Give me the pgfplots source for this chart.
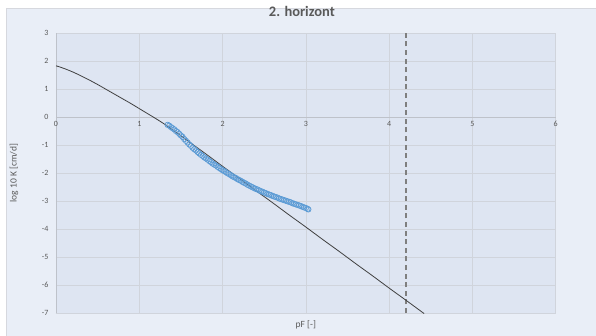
\documentclass[border=0pt]{standalone}
\usepackage{pgfplots}
\pgfplotsset{compat=1.18}
\usepackage{fontspec}
\setmainfont{Carlito}

\definecolor{chartbg}{RGB}{233,238,247}
\definecolor{plotbg}{RGB}{222,229,242}
\definecolor{gridc}{RGB}{208,212,220}
\definecolor{framec}{RGB}{214,216,222}
\definecolor{axisc}{RGB}{190,194,202}
\definecolor{textc}{RGB}{89,89,89}
\definecolor{ptblue}{RGB}{91,155,213}
\definecolor{curvec}{RGB}{64,64,64}
\definecolor{wpc}{RGB}{127,127,127}

% measured conductivity
\pgfplotstableread{
pF logK
1.34 -0.28
1.36 -0.31
1.38 -0.36
1.40 -0.40
1.42 -0.44
1.44 -0.50
1.46 -0.54
1.48 -0.60
1.50 -0.66
1.52 -0.71
1.54 -0.79
1.56 -0.85
1.58 -0.91
1.60 -0.98
1.62 -1.03
1.64 -1.10
1.66 -1.15
1.68 -1.19
1.70 -1.25
1.72 -1.30
1.74 -1.35
1.76 -1.39
1.78 -1.44
1.80 -1.48
1.82 -1.52
1.84 -1.57
1.86 -1.61
1.88 -1.66
1.90 -1.70
1.92 -1.73
1.94 -1.78
1.96 -1.82
1.98 -1.86
2.00 -1.90
2.02 -1.93
2.04 -1.97
2.06 -2.01
2.08 -2.04
2.10 -2.08
2.12 -2.12
2.14 -2.15
2.16 -2.18
2.18 -2.22
2.20 -2.25
2.22 -2.28
2.24 -2.32
2.26 -2.35
2.28 -2.38
2.30 -2.42
2.32 -2.45
2.34 -2.48
2.36 -2.51
2.38 -2.54
2.40 -2.57
2.42 -2.59
2.44 -2.62
2.46 -2.65
2.48 -2.67
2.50 -2.70
2.52 -2.72
2.54 -2.75
2.56 -2.77
2.58 -2.79
2.60 -2.82
2.62 -2.84
2.64 -2.86
2.66 -2.88
2.68 -2.91
2.70 -2.93
2.72 -2.95
2.74 -2.97
2.76 -2.99
2.78 -3.01
2.80 -3.03
2.82 -3.05
2.84 -3.08
2.86 -3.10
2.88 -3.12
2.90 -3.14
2.92 -3.16
2.94 -3.18
2.96 -3.21
2.98 -3.23
3.00 -3.25
3.02 -3.28
3.03 -3.30
}\measured

% fitted conductivity curve
\pgfplotstableread{
pF logK
0.0 1.83
0.1 1.73
0.2 1.61
0.3 1.47
0.4 1.32
0.5 1.16
0.6 0.99
0.7 0.82
0.8 0.65
0.9 0.48
1.0 0.30
1.1 0.12
1.2 -0.06
1.3 -0.25
1.4 -0.46
1.5 -0.67
1.6 -0.89
1.8 -1.32
2.0 -1.76
2.2 -2.19
2.4 -2.63
2.6 -3.06
2.8 -3.50
3.0 -3.93
3.2 -4.37
3.4 -4.80
3.6 -5.24
3.8 -5.67
4.0 -6.11
4.2 -6.54
4.42 -7.02
}\fitted

\begin{document}
\begin{tikzpicture}
\path[use as bounding box] (-56pt,-22pt) rectangle (540pt,313pt);
\fill[white] (-56pt,-22pt) rectangle (540pt,313pt);
\filldraw[fill=chartbg, draw=framec, line width=0.8pt] (-50pt,305pt) rectangle (546pt,-30pt);
\begin{axis}[
  at={(0pt,0pt)}, anchor=south west,
  scale only axis, width=499.7pt, height=280pt,
  xmin=0, xmax=6, ymin=-7, ymax=3,
  xtick={0,1,...,6}, ytick={-7,-6,...,3},
  axis x line*=middle, axis y line*=left,
  hide obscured x ticks=false, hide obscured y ticks=false,
  axis line style={draw=axisc, line width=0.6pt},
  axis background/.style={fill=plotbg},
  grid=major,
  major grid style={draw=gridc, line width=0.6pt},
  major tick length=0pt,
  tick label style={font=\fontsize{8}{9}\selectfont, text=textc},
  /pgf/number format/assume math mode=true,
  xticklabel style={yshift=-1pt},
  yticklabel style={xshift=-4pt},
  title={\textbf{2. horizont}},
  title style={font=\fontsize{14.5}{16}\selectfont, text=textc,
    at={(axis description cs:0.492,1.057)}, anchor=center},
  xlabel={pF [-]},
  xlabel style={font=\fontsize{9.5}{10}\selectfont, text=textc,
    at={(axis description cs:0.5,-0.043)}, anchor=center},
  ylabel={log 10 K [cm/d]},
  ylabel style={font=\fontsize{9.5}{10}\selectfont, text=textc,
    at={(axis description cs:-0.084,0.5)}, anchor=center, rotate=0},
  clip=true,
]
\addplot[draw=gridc, line width=0.6pt, forget plot] coordinates {(0,-7) (6,-7)};
% wilting point at pF 4.2
\addplot[draw=wpc, line width=1.6pt, dash pattern=on 5pt off 3.6pt] coordinates {(4.2,-7) (4.2,3)};
\addplot[draw=curvec, line width=0.8pt, smooth] table[x=pF, y=logK] {\fitted};
\addplot[only marks, mark=o, mark size=2.7pt, ptblue, mark options={line width=0.7pt}] table[x=pF, y=logK] {\measured};
\end{axis}
\end{tikzpicture}
\end{document}
